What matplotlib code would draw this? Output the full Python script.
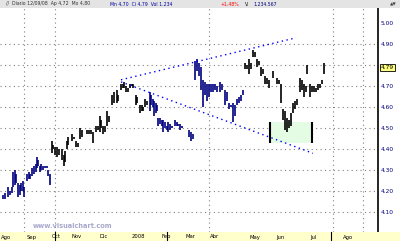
import matplotlib
matplotlib.use("Agg")
import matplotlib.pyplot as plt
from matplotlib.patches import Rectangle

# ---------------- data ----------------
day = [3, 5, 8, 10, 12, 13, 15, 16, 18, 20, 21, 23, 24, 27, 29, 30, 32, 34, 36, 37, 38, 40, 41, 43, 45, 47, 48, 50,
       52, 53, 55, 57, 59, 62, 64, 65, 67, 68, 72, 74, 76, 78, 80, 82, 87, 89, 91, 93, 96, 98, 100, 101, 103, 105,
       107, 109, 112, 114, 117, 118, 121, 123, 124, 126, 128, 130, 132, 133, 136, 137, 140, 142, 143, 145, 147,
       150, 151, 153, 154, 156, 157, 158, 160, 162, 163, 165, 167, 168, 170, 172, 175, 177, 178, 180, 182, 189, 191, 193,
       195, 197, 199, 201, 203, 205, 207, 209, 211, 213, 215, 217, 220, 222, 225, 227, 229, 231, 233, 235, 237, 239, 241, 243,
       245, 247, 249, 251, 253, 255, 257, 259, 261, 263, 265, 267, 269, 273, 277, 279, 281, 283, 285, 287, 289, 291, 293,
       295, 297, 300, 302, 304, 306, 307, 310, 312, 314, 316, 318, 320, 322, 324]
high = [4.18, 4.19, 4.22, 4.20, 4.22, 4.29, 4.30, 4.28, 4.24, 4.23, 4.24, 4.25, 4.22, 4.28, 4.29, 4.28, 4.31, 4.32, 4.33, 4.36, 4.35, 4.32, 4.33, 4.32, 4.32, 4.32, 4.30, 4.28,
        4.44, 4.42, 4.41, 4.41, 4.40, 4.40, 4.37, 4.39, 4.44, 4.46, 4.47, 4.46, 4.44, 4.43, 4.50, 4.49, 4.49, 4.49, 4.49, 4.48, 4.51, 4.51, 4.56, 4.54, 4.51, 4.51,
        4.58, 4.56, 4.66, 4.67, 4.68, 4.66, 4.71, 4.71, 4.72, 4.70, 4.69, 4.71, 4.71, 4.71, 4.66, 4.65, 4.61, 4.61, 4.60, 4.64, 4.63,
        4.67, 4.66, 4.64, 4.63, 4.62, 4.61, 4.55, 4.55, 4.54, 4.54, 4.53, 4.51, 4.53, 4.52, 4.51, 4.54, 4.53, 4.52, 4.52, 4.51, 4.49, 4.48, 4.47,
        4.82, 4.83, 4.81, 4.79, 4.73, 4.72, 4.71, 4.71, 4.71, 4.71, 4.71, 4.70, 4.72, 4.71, 4.68, 4.67, 4.62, 4.61, 4.62, 4.61, 4.64, 4.65, 4.66, 4.68,
        4.81, 4.80, 4.83, 4.81, 4.87, 4.86, 4.83, 4.82, 4.79, 4.78, 4.75, 4.74, 4.73, 4.77, 4.74, 4.73, 4.71, 4.59, 4.58, 4.55, 4.54, 4.57, 4.62,
        4.63, 4.64, 4.74, 4.73, 4.71, 4.70, 4.80, 4.71, 4.70, 4.70, 4.69, 4.71, 4.71, 4.73, 4.81]
low = [4.16, 4.16, 4.17, 4.18, 4.19, 4.22, 4.23, 4.24, 4.17, 4.18, 4.20, 4.20, 4.17, 4.25, 4.26, 4.26, 4.27, 4.28, 4.29, 4.31, 4.32, 4.29, 4.30, 4.30, 4.31, 4.31, 4.27, 4.23,
       4.38, 4.40, 4.37, 4.36, 4.37, 4.35, 4.32, 4.34, 4.40, 4.42, 4.44, 4.45, 4.41, 4.41, 4.45, 4.46, 4.47, 4.47, 4.47, 4.43, 4.48, 4.49, 4.48, 4.50, 4.47, 4.48,
       4.51, 4.53, 4.61, 4.62, 4.62, 4.63, 4.68, 4.69, 4.69, 4.67, 4.67, 4.69, 4.70, 4.69, 4.61, 4.62, 4.57, 4.58, 4.58, 4.60, 4.61,
       4.58, 4.61, 4.60, 4.56, 4.57, 4.58, 4.51, 4.52, 4.51, 4.48, 4.50, 4.49, 4.48, 4.49, 4.50, 4.51, 4.51, 4.51, 4.49, 4.50, 4.46, 4.44, 4.45,
       4.73, 4.77, 4.75, 4.68, 4.60, 4.66, 4.63, 4.65, 4.67, 4.67, 4.68, 4.67, 4.67, 4.68, 4.61, 4.63, 4.59, 4.60, 4.53, 4.56, 4.61, 4.62, 4.63, 4.66,
       4.78, 4.78, 4.76, 4.78, 4.84, 4.84, 4.79, 4.80, 4.75, 4.76, 4.71, 4.71, 4.69, 4.74, 4.71, 4.71, 4.62, 4.54, 4.49, 4.48, 4.50, 4.51, 4.57,
       4.59, 4.61, 4.67, 4.68, 4.65, 4.67, 4.76, 4.65, 4.67, 4.67, 4.67, 4.68, 4.69, 4.71, 4.76]

upper_line_x = [121, 296]
upper_line_y = [4.73, 4.93]
lower_line_x = [121, 313]
lower_line_y = [4.72, 4.38]
box_x = [270, 312]
box_y = [4.43, 4.53]

last_price = 4.79
price_ticks = [5.00, 4.90, 4.80, 4.70, 4.60, 4.50, 4.40, 4.30, 4.20, 4.10]
price_labels = ["5.00", "4.90", "4.80", "4.70", "4.60", "4.50", "4.40", "4.30", "4.20", "4.10"]
vgrid_days = [24, 55, 209, 333, 363]
date_pos = [1, 27, 52, 72, 100, 132, 162, 185, 210, 250, 276, 310, 343]
date_labels = ["Ago", "Sep", "Oct", "Nov", "Dic", "2008", "Feb", "Mar", "Abr", "May", "Jun", "Jul", "Ago"]

# ---------------- figure ----------------
W, H = 400, 241
fig = plt.figure(figsize=(W / 100, H / 100), dpi=100)
fig.patch.set_facecolor("white")

top, bottom, right = 8, 232, 378
ax = fig.add_axes([0, (H - bottom) / H, right / W, (bottom - top) / H])
ax.set_xlim(0, right)
ax.set_ylim(5.11 - bottom / 210, 5.11 - top / 210)
for s in ["top", "left", "bottom"]:
    ax.spines[s].set_visible(False)
ax.spines["right"].set_color("black")
ax.spines["right"].set_linewidth(1.2)
ax.set_xticks([])
ax.set_yticks([])

# grid
for p in price_ticks[1:]:
    ax.axhline(p, color="#808080", lw=0.8, ls=(0, (1, 3)), zorder=0)
for d in vgrid_days:
    ax.axvline(d, color="#808080", lw=0.8, ls=(0, (1, 3)), zorder=0)

# green zone
ax.add_patch(Rectangle((box_x[0], box_y[0]), box_x[1] - box_x[0], box_y[1] - box_y[0],
                       facecolor="#e4fbe4", edgecolor="none", zorder=1))
ax.vlines(box_x, box_y[0], box_y[1], colors="black", lw=1.5, zorder=2)

# bars
colors = ["#000080" if (d < 51 or 148 <= d < 244) else "black" for d in day]
ax.vlines(day, low, high, colors=colors, lw=1.2, zorder=3)

# trend lines
ax.plot(upper_line_x, upper_line_y, color="#0000ff", lw=1.0, ls=(0, (1, 2.5)), zorder=4)
ax.plot(lower_line_x, lower_line_y, color="#0000ff", lw=1.0, ls=(0, (1, 2.5)), zorder=4)

# watermark
ax.text(33, 5.11 - 226 / 210, "www.visualchart.com", color="#a8a8cc", fontsize=4.8,
        fontweight="bold", va="center", ha="left")

# right price axis labels
for p, lab in zip(price_ticks, price_labels):
    if abs(p - last_price) < 0.03:
        continue
    ax.text(right + 3, p, lab, color="#000080", fontsize=4.2, va="center", ha="left",
            clip_on=False)
ax.text(right + 3, last_price, "%.2f" % last_price, color="black", fontsize=4.2, va="center",
        ha="left", clip_on=False,
        bbox=dict(boxstyle="square,pad=0.15", facecolor="#ffff80", edgecolor="black", lw=0.6))

# top bar
fig.patches.append(Rectangle((0, 1 - top / H), 1, top / H, transform=fig.transFigure,
                             facecolor="#e4e4e4", edgecolor="none", zorder=0))
ty = 1 - 4 / H
parts = [(6, "//  Diario 12/09/08  Ap 4,72  Mx 4,80", "#303030"),
         (110, "Mn 4,70  Ci 4,79  Vol 1.234", "#0000a0"),
         (220, "+1,48%", "#ff0000"),
         (245, "V:", "black"),
         (253, "1.234.567", "#000080")]
for x, t, c in parts:
    fig.text(x / W, ty, t, color=c, fontsize=3.3, va="center", ha="left")
fig.text(393 / W, ty, "▲▼", color="#404040", fontsize=3.2, va="center", ha="center")

# bottom date strip
fig.patches.append(Rectangle((0, 0), 1, (H - bottom) / H, transform=fig.transFigure,
                             facecolor="#ffffcc", edgecolor="none", zorder=0))
for x, t in zip(date_pos, date_labels):
    fig.text(x / W, 4 / H, t, color="black", fontsize=3.8, va="center", ha="left")
for x in [55, 167, 331]:
    fig.lines.append(plt.Line2D([x / W, x / W], [0, (H - bottom) / H], transform=fig.transFigure,
                                color="black", lw=0.8))

fig.savefig("out.png", dpi=100)
